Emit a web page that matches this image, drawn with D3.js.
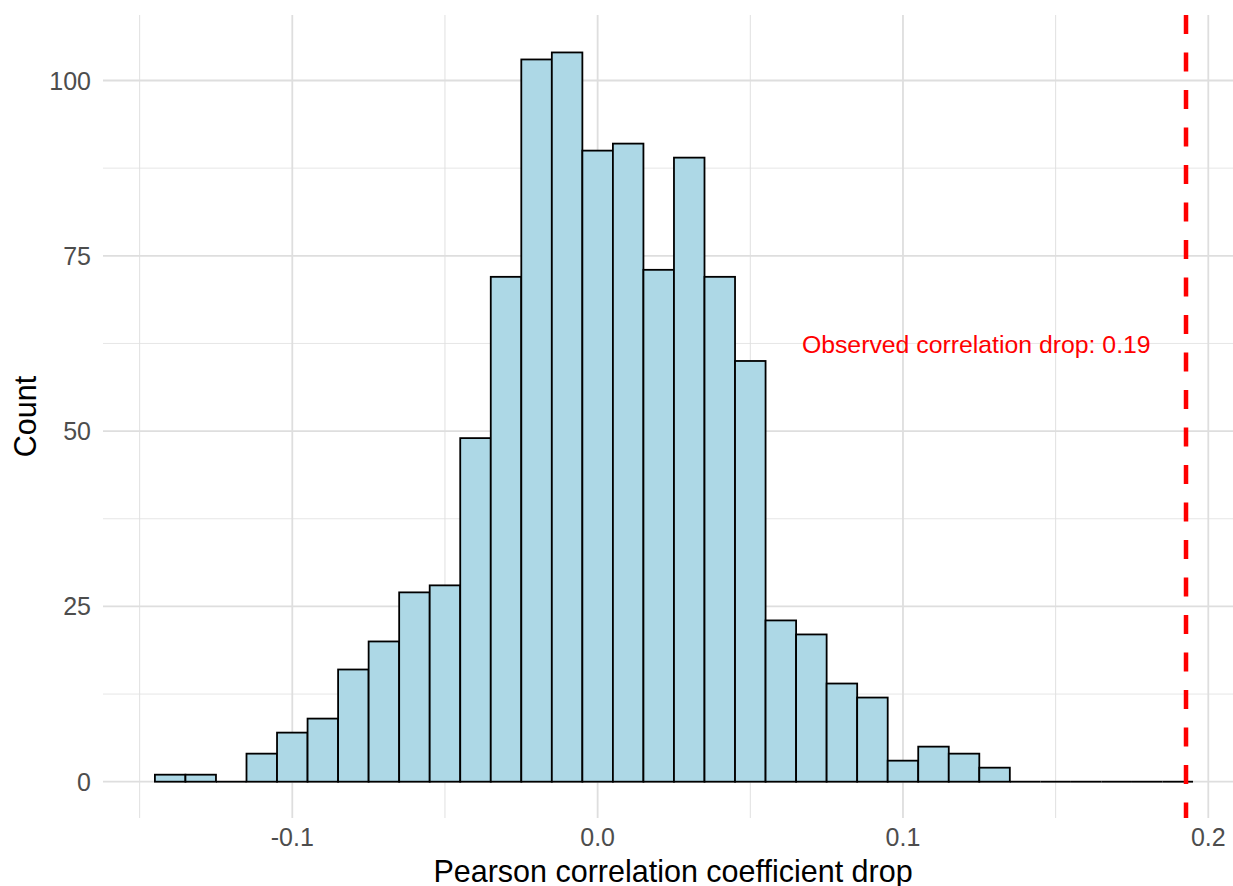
<!DOCTYPE html>
<html>
<head>
<meta charset="utf-8">
<script src="https://cdn.jsdelivr.net/npm/d3@7"></script>
<style>
  body { margin: 0; background: #fff; }
  svg { display: block; font-family: "Liberation Sans", Arial, sans-serif; }
</style>
</head>
<body>
<svg id="chart" width="1233" height="886"></svg>
<script>
// bins of width 0.01, starting at -0.145
var binStart = -0.145;
var binWidth = 0.01;
var counts = [1, 1, 0, 4, 7, 9, 16, 20, 27, 28, 49, 72, 103, 104, 90, 91, 73, 89, 72, 60,
              23, 21, 14, 12, 3, 5, 4, 2, 0, 0, 0, 0, 0, 0];
var observed = 0.1927;
var labelText = "Observed correlation drop: 0.19";
var labelPos = [0.124, 62.3];
var xTicks = [-0.1, 0.0, 0.1, 0.2];
var xMinor = [-0.15, -0.05, 0.05, 0.15];
var yTicks = [0, 25, 50, 75, 100];
var yMinor = [12.5, 37.5, 62.5, 87.5];

var svg = d3.select("#chart");

// panel box (window.top は使えないので名前を変える)
var pLeft = 103, pRight = 1233, pTop = 15, pBottom = 818;

var x = d3.scaleLinear().domain([-0.1, 0.2]).range([292.3, 1208.3]);
var y = d3.scaleLinear().domain([0, 100]).range([781.7, 80.5]);

var bins = counts.map(function(c, i) {
  var x0 = binStart + i * binWidth;
  return { x0: x0, x1: x0 + binWidth, n: c };
});

var g = svg.append("g");

// grid
function hline(sel, vals, col, w) {
  sel.selectAll(null).data(vals).enter().append("line")
    .attr("x1", pLeft).attr("x2", pRight)
    .attr("y1", function(d) { return y(d); }).attr("y2", function(d) { return y(d); })
    .attr("stroke", col).attr("stroke-width", w);
}
function vline(sel, vals, col, w) {
  sel.selectAll(null).data(vals).enter().append("line")
    .attr("y1", pTop).attr("y2", pBottom)
    .attr("x1", function(d) { return x(d); }).attr("x2", function(d) { return x(d); })
    .attr("stroke", col).attr("stroke-width", w);
}
hline(g, yMinor, "#e6e6e6", 1);
vline(g, xMinor, "#e0e0e0", 1);
hline(g, yTicks, "#dedede", 1.8);
vline(g, xTicks, "#dedede", 1.8);

// bars
g.selectAll(".bar").data(bins.filter(function(d) { return d.n > 0; })).enter().append("rect")
  .attr("x", function(d) { return x(d.x0); })
  .attr("width", function(d) { return x(d.x1) - x(d.x0); })
  .attr("y", function(d) { return y(d.n); })
  .attr("height", function(d) { return y(0) - y(d.n); })
  .attr("fill", "#ADD8E6")
  .attr("stroke", "#000")
  .attr("stroke-width", 1.8);

// 0件のビンは線だけ
g.selectAll(".zero").data(bins.filter(function(d) { return d.n === 0; })).enter().append("line")
  .attr("x1", function(d) { return x(d.x0); })
  .attr("x2", function(d) { return x(d.x1); })
  .attr("y1", y(0)).attr("y2", y(0))
  .attr("stroke", "#000")
  .attr("stroke-width", 1.8);

// observed line
g.append("line")
  .attr("x1", x(observed)).attr("x2", x(observed))
  .attr("y1", pTop).attr("y2", pBottom)
  .attr("stroke", "#ff0000").attr("stroke-width", 4.5)
  .attr("stroke-dasharray", "19,18.5");

g.append("text")
  .attr("x", x(labelPos[0])).attr("y", y(labelPos[1]))
  .attr("text-anchor", "middle").attr("dominant-baseline", "central")
  .attr("font-size", 24.8).attr("fill", "#ff0000")
  .text(labelText);

// tick labels
var fmtX = function(d) { return d === 0 ? "0.0" : d3.format(".1f")(d).replace("−", "-"); };
g.selectAll(".xl").data(xTicks).enter().append("text")
  .attr("x", function(d) { return x(d); }).attr("y", 837)
  .attr("text-anchor", "middle").attr("dominant-baseline", "central")
  .attr("font-size", 25).attr("fill", "#4d4d4d")
  .text(fmtX);
g.selectAll(".yl").data(yTicks).enter().append("text")
  .attr("x", 91).attr("y", function(d) { return y(d); })
  .attr("text-anchor", "end").attr("dominant-baseline", "central")
  .attr("font-size", 25).attr("fill", "#4d4d4d")
  .text(function(d) { return d; });

// axis titles
svg.append("text")
  .attr("x", 673).attr("y", 871)
  .attr("text-anchor", "middle").attr("dominant-baseline", "central")
  .attr("font-size", 30.5).attr("fill", "#000")
  .text("Pearson correlation coefficient drop");
svg.append("text")
  .attr("transform", "translate(25," + ((pTop + pBottom) / 2) + ") rotate(-90)")
  .attr("text-anchor", "middle").attr("dominant-baseline", "central")
  .attr("font-size", 30.5).attr("fill", "#000")
  .text("Count");
</script>
</body>
</html>
